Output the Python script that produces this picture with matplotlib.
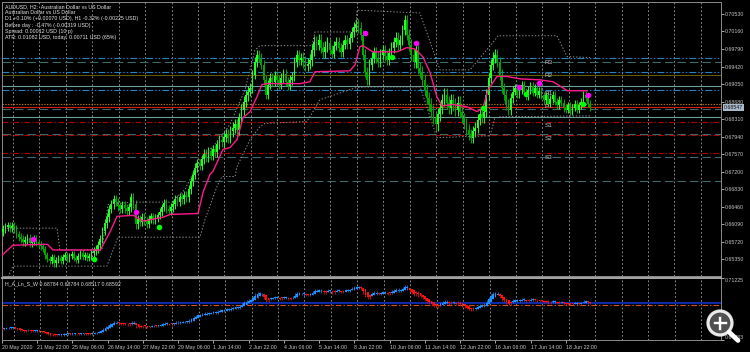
import numpy as np
import matplotlib.pyplot as plt
from matplotlib.patches import Circle
from matplotlib.transforms import IdentityTransform

plt.rcParams['font.family'] = ['Liberation Sans', 'DejaVu Sans']
plt.rcParams['lines.scale_dashes'] = False

W, H = 750, 352
FS = 3.8

# H2 closes, AUDUSD, 20 May 14:00 .. 19 Jun 20:00
closes = [
    0.6593, 0.6599, 0.6603, 0.6607, 0.6601, 0.6605, 0.6599,
    0.6588, 0.6582, 0.6578, 0.6572, 0.6576, 0.6580, 0.6569, 0.6574, 0.6578, 0.6572, 0.6567, 0.6563,
    0.6557, 0.6544, 0.6536, 0.6532, 0.6540, 0.6527, 0.6534, 0.6538, 0.6532,
    0.6540, 0.6544, 0.6536, 0.6542, 0.6546, 0.6538, 0.6534, 0.6542, 0.6548, 0.6540, 0.6544, 0.6538, 0.6542,
    0.6548, 0.6553, 0.6557, 0.6565, 0.6578, 0.6595, 0.6611, 0.6624, 0.6641, 0.6651,
    0.6662, 0.6656, 0.6647, 0.6641, 0.6649, 0.6643, 0.6637, 0.6645, 0.6666, 0.6651, 0.6609,
    0.6620, 0.6614, 0.6624, 0.6616, 0.6609, 0.6620, 0.6626, 0.6618, 0.6622, 0.6628, 0.6635,
    0.6645, 0.6654, 0.6641, 0.6637, 0.6645, 0.6651, 0.6662, 0.6656, 0.6666, 0.6662, 0.6670, 0.6666,
    0.6683, 0.6700, 0.6714, 0.6729, 0.6738, 0.6733, 0.6746, 0.6757, 0.6750, 0.6763, 0.6754, 0.6767, 0.6761,
    0.6778, 0.6788, 0.6782, 0.6794, 0.6799, 0.6792, 0.6805, 0.6813, 0.6820, 0.6809, 0.6834, 0.6851, 0.6868,
    0.6881, 0.6889, 0.6897, 0.6925, 0.6952, 0.6967, 0.6961, 0.6946,
    0.6914, 0.6883, 0.6904, 0.6918, 0.6910, 0.6923, 0.6914, 0.6904, 0.6918, 0.6927, 0.6910, 0.6902, 0.6914, 0.6921,
    0.6952, 0.6967, 0.6956, 0.6961, 0.6952, 0.6944, 0.6948, 0.6956,
    0.6977, 0.6994, 0.6988, 0.6998, 0.6982,
    0.6973, 0.6984, 0.6992, 0.6977, 0.6969, 0.6986, 0.6994, 0.6982, 0.6973, 0.6988, 0.6998, 0.6990, 0.7003,
    0.7015, 0.7026, 0.7032, 0.7024, 0.7009, 0.6967, 0.6931, 0.6914, 0.6946, 0.6961,
    0.6973, 0.6961, 0.6952, 0.6967, 0.6977, 0.6965, 0.6956, 0.6971, 0.6982,
    0.6994, 0.7003, 0.6988, 0.6998, 0.7019, 0.7040, 0.7009, 0.6988,
    0.6967, 0.6952, 0.6977, 0.6939, 0.6931,
    0.6914, 0.6893, 0.6876, 0.6862, 0.6847, 0.6834, 0.6820, 0.6841, 0.6855,
    0.6872, 0.6883, 0.6866, 0.6855, 0.6872, 0.6862, 0.6851, 0.6866, 0.6847,
    0.6834, 0.6822, 0.6809, 0.6799, 0.6792, 0.6805, 0.6813, 0.6830, 0.6841, 0.6834, 0.6847,
    0.6883, 0.6918, 0.6946, 0.6961, 0.6967, 0.6952, 0.6925, 0.6897, 0.6883, 0.6862, 0.6851,
    0.6876, 0.6889, 0.6897, 0.6883, 0.6893, 0.6904, 0.6889, 0.6879, 0.6893, 0.6902, 0.6887, 0.6897, 0.6883, 0.6891, 0.6881,
    0.6872, 0.6881, 0.6864, 0.6874, 0.6883, 0.6868, 0.6860, 0.6872, 0.6866, 0.6855,
    0.6851, 0.6860, 0.6847, 0.6855, 0.6864, 0.6851, 0.6860, 0.6868,
    0.6883, 0.6876, 0.6864, 0.6855,
]
# typical wick beyond the body, one value per trading day
day_wick = [0.0008, 0.0008, 0.0007, 0.0007, 0.0009, 0.0009, 0.0008, 0.0009, 0.0010, 0.0011, 0.0010, 0.0010,
            0.0012, 0.0010, 0.0011, 0.0011, 0.0013, 0.0013, 0.0011, 0.0011, 0.0008, 0.0008, 0.0007]

# pink moving average, read at key bars
ma_bar = [0, 5.4, 21, 23.6, 45, 49.4, 52.6, 60, 64.4, 73.4, 76.6, 89.3, 91.6, 94.7, 96.1, 100.6, 103.8, 107,
          109.7, 112.9, 116, 118.3, 120.6, 135.5, 140, 142.3, 158.2, 160.5, 162.7, 164, 168.6, 179.5, 184,
          187.7, 191.3, 194.5, 197.6, 200, 205, 211.2, 215.8, 218.5, 220.8, 224.8, 229.4, 235.3, 244.3,
          250.2, 254.8, 256.6, 265.6]
ma_val = [0.6542, 0.6565, 0.6567, 0.6555, 0.6555, 0.6593, 0.6626, 0.6628, 0.6616, 0.6624, 0.6630, 0.6632,
          0.6677, 0.6714, 0.6721, 0.6767, 0.6771, 0.6788, 0.6834, 0.6847, 0.6878, 0.6904, 0.6906, 0.6906,
          0.6910, 0.6931, 0.6933, 0.6946, 0.6984, 0.6986, 0.6973, 0.6973, 0.6982, 0.6979, 0.6962, 0.6929,
          0.6878, 0.6859, 0.6862, 0.6857, 0.6847, 0.6855, 0.6893, 0.6921, 0.6921, 0.6916, 0.6914, 0.6910,
          0.6897, 0.6891, 0.6891]

# dotted channel
up_bar = [2.7, 25.4, 26.7, 45.8, 48.5, 59.8, 77.5, 83.4, 90.2, 97, 103.8, 110.6, 115.1, 117.4, 141, 142.3,
          160.5, 161.4, 189.9, 195.8, 199, 212.6, 223.9, 225.3, 252, 256.6, 267]
up_val = [0.6601, 0.6601, 0.6555, 0.6555, 0.6651, 0.6656, 0.6656, 0.6683, 0.6746, 0.6778, 0.6820, 0.6893,
          0.6977, 0.6986, 0.6986, 0.7015, 0.7015, 0.7061, 0.7055, 0.6977, 0.6935, 0.6935, 0.6998, 0.7007,
          0.7007, 0.6963, 0.6961]
lo_bar = [3.2, 5.4, 48, 53, 90.2, 92.5, 97.9, 100.2, 106.1, 107, 112.9, 117.4, 119.7, 138.7, 144.6, 160.5,
          165, 190, 197.6, 221.7, 223.9, 226.2, 267]
lo_val = [0.6498, 0.6521, 0.6521, 0.6582, 0.6582, 0.6620, 0.6689, 0.6710, 0.6710, 0.6731, 0.6788, 0.6815,
          0.6822, 0.6826, 0.6872, 0.6897, 0.6899, 0.6899, 0.6792, 0.6796, 0.6834, 0.6836, 0.6838]

# fractal dots
mag_bar = [14.5, 61.2, 165, 188.1, 234.8, 243.9, 266.1]
mag_val = [0.6578, 0.6635, 0.7013, 0.6992, 0.6899, 0.6908, 0.6883]
lime_bar = [42.2, 71.6, 177.2, 218.5, 238, 263.8]
lime_val = [0.6536, 0.6603, 0.6963, 0.6855, 0.6885, 0.6862]

# horizontal levels
level_val = [0.69594, 0.69510, 0.69310, 0.69247, 0.69016, 0.68921, 0.68638, 0.68568, 0.68526, 0.68358,
             0.68259, 0.68007, 0.67980, 0.67587, 0.67517, 0.67004]
level_kind = ['bd', 'gd', 'bd', 'ol', 'lt', 'bd', 'od', 'rs', 'gd', 'lt', 'rd', 'gd', 'rd', 'rd', 'gd', 'gd']
pivot_names = ['R3', 'R2', 'R1', 'P', 'S1', 'S2', 'S3']
pivot_val = [0.69500, 0.69237, 0.68852, 0.68575, 0.68175, 0.67902, 0.67509]

price_ticks = [0.70530, 0.70160, 0.69790, 0.69420, 0.69050, 0.68680, 0.68310, 0.67940, 0.67570, 0.67200,
               0.66830, 0.66460, 0.66090, 0.65720, 0.65350]
last_price = 0.68547
date_labels = ['20 May 2020', '21 May 22:00', '25 May 06:00', '26 May 14:00', '27 May 22:00', '29 May 06:00',
               '1 Jun 14:00', '2 Jun 22:00', '4 Jun 06:00', '5 Jun 14:00', '8 Jun 22:00', '10 Jun 06:00',
               '11 Jun 14:00', '12 Jun 22:00', '16 Jun 06:00', '17 Jun 14:00', '18 Jun 22:00']
info_lines = ['AUDUSD, H2:  Australian Dollar vs US Dollar',
              'Australian Dollar vs US Dollar',
              'D1 +0.10% (+0.00070 USD), H1 -0.32% (-0.00225 USD)',
              'Before day : -0.47% (-0.00319 USD)',
              'Spread: 0.00012 USD (10 p)',
              'ATR: 0.01082 USD, today: 0.00711 USD (65%)']
sub_title = 'H_A_Ln_S_W 0.68784 0.68784 0.68517 0.68592'
sub_ticks = [0.71225, 0.64783]
sub_last = 0.68592
sub_level = 0.68380

# ---- build OHLC
c = np.array(closes)
n = len(c)
o = np.r_[c[0] + 0.0003, c[:-1]]
wk = np.array([day_wick[(i + 7) // 12] for i in range(n)])
hi = np.maximum(o, c) + wk
lo = np.minimum(o, c) - wk
x = np.arange(n)

fig = plt.figure(figsize=(W / 100, H / 100), dpi=100, facecolor='black')


def px_axes(x0, y0, x1, y1):
    a = fig.add_axes([x0 / W, 1 - y1 / H, (x1 - x0) / W, (y1 - y0) / H])
    a.set_facecolor('black')
    for s in a.spines.values():
        s.set_color('#8a8a8a')
        s.set_linewidth(0.7)
    return a


ax = px_axes(2, 2, 721, 276)
sub = px_axes(2, 278, 721, 340)
sub.spines['top'].set_color('#b4b4b4')
sub.spines['top'].set_linewidth(1.3)

xmin = 0.45
xmax = xmin + 719 / 2.206
for a in (ax, sub):
    a.set_xlim(xmin, xmax)
    for k in range(28):
        a.axvline(5.3 + 12 * k, color='#a0a0a0', lw=0.6, ls=(0, (1.2, 1.6)), zorder=1)

ax.set_ylim(0.65001, 0.70782)

styles = {
    'bd': dict(color='#1f86c0', ls=(0, (5, 1.5, 1, 1.5, 1, 1.5)), lw=0.8),
    'gd': dict(color='#3f6a6a', ls=(0, (6, 3)), lw=0.8),
    'ol': dict(color='#716d00', ls='-', lw=0.6),
    'lt': dict(color='#6c9e9a', ls='-', lw=0.8),
    'od': dict(color='#b87000', ls=(0, (1, 1)), lw=0.8),
    'rs': dict(color='#d81818', ls='-', lw=0.8),
    'rd': dict(color='#b00000', ls=(0, (4, 1.5, 1, 1.5)), lw=0.8),
}
for v, kind in zip(level_val, level_kind):
    ax.axhline(v, zorder=2, **styles[kind])

# candles
up = c >= o
col_up, col_dn = '#22ff22', '#00a800'
cols = np.where(up, col_up, col_dn)
ax.vlines(x, lo, hi, colors=cols, lw=0.7, zorder=3)
body = np.where(np.abs(c - o) < 0.0001, 0.0001, np.abs(c - o))
ax.bar(x, body, bottom=np.minimum(o, c), width=0.78, color=cols, lw=0, zorder=3)

ax.plot(up_bar, up_val, color='#8c8c8c', lw=0.7, ls=(0, (1, 1.3)), zorder=4)
ax.plot(lo_bar, lo_val, color='#8c8c8c', lw=0.7, ls=(0, (1, 1.3)), zorder=4)
ax.plot(ma_bar, ma_val, color='#ff1a8c', lw=1.0, zorder=5)
ax.plot(mag_bar, mag_val, 'o', color='#ff00ff', ms=4.0, mew=0, zorder=6)
ax.plot(lime_bar, lime_val, 'o', color='#00ff00', ms=4.0, mew=0, zorder=6)

for name, v in zip(pivot_names, pivot_val):
    ax.text(246.5, v, name, color='#c4c4c4', fontsize=4.6, va='center', ha='left', zorder=7)

for j, line in enumerate(info_lines):
    ax.text(3 / 719, 1 - (4.5 + 6.2 * j) / 274, line, transform=ax.transAxes, color='#e6e6e6',
            fontsize=FS, va='center', ha='left', zorder=8)

ax.yaxis.tick_right()
ax.set_yticks(price_ticks)
ax.set_yticklabels(['%.5f' % t for t in price_ticks])
ax.tick_params(axis='y', colors='#c4c4c4', labelsize=FS, length=2, width=0.6, pad=1)
ax.set_xticks([])
ax.annotate('%.5f' % last_price, xy=(1.0, last_price), xycoords=('axes fraction', 'data'),
            xytext=(2, 0), textcoords='offset points', color='#101010', fontsize=FS, va='center',
            ha='left', annotation_clip=False,
            bbox=dict(boxstyle='square,pad=0.2', fc='#a9b9cc', ec='none'))

# heiken ashi sub window
ha_c = (o + hi + lo + c) / 4
ha_o = np.empty(n)
ha_o[0] = o[0]
for i in range(1, n):
    ha_o[i] = (ha_o[i - 1] + ha_c[i - 1]) / 2
ha_h = np.maximum(hi, np.maximum(ha_o, ha_c))
ha_l = np.minimum(lo, np.minimum(ha_o, ha_c))
hcol = np.where(ha_c >= ha_o, '#1e90ff', '#ff1010')
sub.set_ylim(sub_ticks[1], sub_ticks[0])
sub.axhline(sub_last, color='#0a2aa8', lw=1.5, zorder=2)
sub.axhline(sub_level, color='#d2501e', lw=0.8, ls=(0, (4, 1.5, 1, 1.5)), zorder=2)
sub.vlines(x, ha_l, ha_h, colors=hcol, lw=0.5, zorder=3)
hb = np.where(np.abs(ha_c - ha_o) < 0.0009, 0.0009, np.abs(ha_c - ha_o))
sub.bar(x, hb, bottom=np.minimum(ha_o, ha_c), width=0.8, color=hcol, lw=0, zorder=3)
sub.text(3 / 719, 1 - 6 / 62, sub_title, transform=sub.transAxes, color='#d8d8d8', fontsize=FS,
         va='center', ha='left', zorder=8)
sub.yaxis.tick_right()
sub.set_yticks(sub_ticks)
sub.set_yticklabels(['%.5f' % t for t in sub_ticks])
sub.tick_params(axis='y', colors='#c4c4c4', labelsize=FS, length=2, width=0.6, pad=1)
for lbl, va in zip(sub.get_yticklabels(), ['top', 'bottom']):
    lbl.set_va(va)
sub.set_xticks([16 * k for k in range(len(date_labels))])
sub.set_xticklabels(date_labels)
sub.tick_params(axis='x', colors='#c4c4c4', labelsize=FS, length=2, width=0.6, pad=1.5)
for lbl in sub.get_xticklabels():
    lbl.set_ha('left')

# zoom overlay icon
tr = IdentityTransform()
fig.patches.append(Circle((720, H - 323), 12, transform=tr, fc='#5a5a5a', ec='white', lw=2.3, alpha=0.9))
fig.lines.append(plt.Line2D([729, 738], [H - 332, H - 340.5], transform=tr, color='white', lw=3.4,
                            solid_capstyle='round'))
fig.lines.append(plt.Line2D([714.5, 725.5], [H - 323, H - 323], transform=tr, color='white', lw=1.7))
fig.lines.append(plt.Line2D([720, 720], [H - 317.5, H - 328.5], transform=tr, color='white', lw=1.7))

fig.savefig('out.png', dpi=100, facecolor='black')
